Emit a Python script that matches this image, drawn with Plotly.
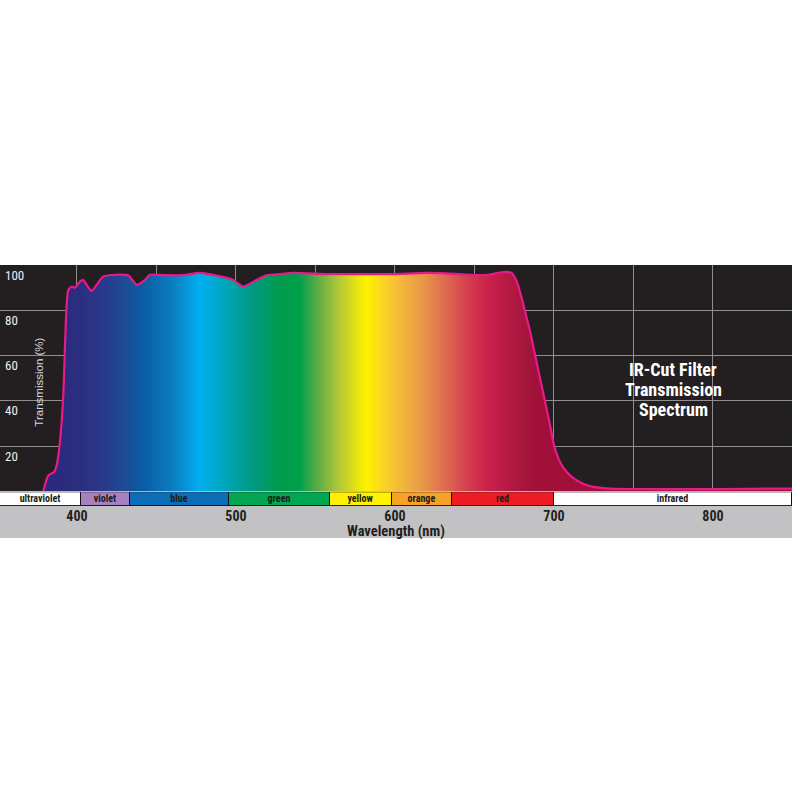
import plotly.graph_objects as go

# transmission curve
wavelength_nm = [378.8, 382.0, 385.6, 387.3, 389.3, 391.4, 392.5, 393.5, 394.6, 396.7,
                 398.8, 401.9, 404.0, 406.1, 409.3, 412.4, 416.6, 425.0, 432.3, 437.6,
                 442.8, 445.9, 454.1, 466.7, 477.4, 490.0, 498.1, 504.4, 513.2, 519.5,
                 527.7, 535.9, 557.3, 578.0, 598.8, 620.2, 640.9, 651.6, 659.8, 668.1,
                 673.4, 676.6, 679.7, 681.8, 685.0, 688.1, 691.2, 694.4, 697.5, 700.0,
                 703.8, 708.0, 714.3, 722.7, 735.3, 762.3, 804.4, 842.2, 849.7]
transmission_pct = [0.0, 7.0, 8.5, 11.6, 21.8, 42.5, 64.6, 82.3, 89.0, 90.4,
                    90.0, 92.7, 93.4, 91.2, 88.5, 91.2, 94.9, 95.7, 95.4, 91.2,
                    93.4, 95.7, 95.5, 95.5, 96.5, 95.0, 93.5, 90.5, 93.5, 95.5,
                    96.0, 96.5, 96.0, 96.0, 96.0, 96.5, 96.0, 95.5, 95.8, 96.9,
                    96.5, 92.7, 85.4, 79.5, 70.6, 60.3, 50.0, 39.7, 29.3, 20.4,
                    13.0, 8.5, 4.8, 2.3, 1.2, 1.0, 1.0, 1.2, 1.2]

# spectrum colours under the curve
spectrum_nm = [390, 410, 430, 440, 460, 477, 494, 511, 528, 540,
               551, 565, 582, 597, 618, 635, 647, 660, 680, 691]
spectrum_colors = ["#2b2a7c", "#2c3284", "#1e4a96", "#0b5aa2", "#0a7cc0", "#00aeef",
                   "#00a6b8", "#009a80", "#009a4c", "#00a04a", "#5aaa45", "#b5c835",
                   "#fff200", "#f7c830", "#e8964a", "#dc6050", "#d43a4f", "#c8204a",
                   "#a8163e", "#a01038"]

# colour band strip
band_names = ["ultraviolet", "violet", "blue", "green", "yellow", "orange", "red", "infrared"]
band_start = [351.6, 402.4, 433.4, 495.4, 559.1, 598.0, 635.7, 700.2]
band_end = [402.4, 433.4, 495.4, 559.1, 598.0, 635.7, 700.2, 849.7]
band_colors = ["#ffffff", "#a680bf", "#0b6db7", "#00a651", "#fff200", "#f7a226", "#ed1c24", "#ffffff"]

x_ticks = [400, 500, 600, 700, 800]
y_ticks = [20, 40, 60, 80, 100]
title_lines = ["IR-Cut Filter", "Transmission", "Spectrum"]

COND = "Roboto Condensed, DejaVu Sans Condensed, sans-serif"

lo, hi = spectrum_nm[0], spectrum_nm[-1]
colorscale = [[(w - lo) / (hi - lo), c] for w, c in zip(spectrum_nm, spectrum_colors)]

fig = go.Figure()

fig.add_trace(go.Scatter(
    x=wavelength_nm, y=transmission_pct, mode="lines",
    line=dict(color="#e8198b", width=2.2, shape="spline", smoothing=0.6),
    fill="tozeroy",
    fillgradient=dict(type="horizontal", colorscale=colorscale, start=lo, stop=hi),
    hoverinfo="skip", showlegend=False, xaxis="x", yaxis="y",
))

fig.add_trace(go.Bar(
    y=[0] * len(band_names),
    x=[e - s for s, e in zip(band_start, band_end)],
    base=band_start, orientation="h", width=1,
    marker=dict(color=band_colors, line=dict(color="#111111", width=1)),
    text=band_names, textposition="inside", insidetextanchor="middle",
    textfont=dict(family=COND, size=10, color="#1a1a1a", weight="bold"),
    constraintext="none",
    hoverinfo="skip", showlegend=False, xaxis="x2", yaxis="y2",
))

# y tick labels sit just under each grid line, inside the plot
annotations = [
    dict(text=str(v), x=0.004, y=v, xref="paper", yref="y", yshift=-10,
         xanchor="left", showarrow=False,
         font=dict(family=COND, size=13, color="#f0f0f0"))
    for v in y_ticks
]
# three-line title, tight line spacing like the original
for i, line in enumerate(title_lines):
    annotations.append(dict(text=line, x=775, y=45, xref="x", yref="y", yshift=20 - 20 * i,
                            showarrow=False,
                            font=dict(family=COND, size=18, color="white", weight="bold")))
annotations += [
    dict(text="Transmission (%)", textangle=-90, x=31 / 792, y=48, xref="paper", yref="y",
         showarrow=False, font=dict(family="Liberation Sans, Arial, sans-serif", size=11.5,
                                    color="#d8d8d8")),
    dict(text="Wavelength (nm)", x=0.5, y=0.022, xref="paper", yref="paper",
         xanchor="center", yanchor="middle", showarrow=False,
         font=dict(family=COND, size=14.5, color="#231f20", weight="bold")),
]

fig.update_layout(
    width=800, height=800,
    margin=dict(l=0, r=8, t=265, b=262),
    paper_bgcolor="white", plot_bgcolor="#231f20",
    bargap=0,
    xaxis=dict(range=[351.6, 849.7], tickvals=list(range(400, 801, 50)),
               showticklabels=False, ticks="", showgrid=True, gridcolor="#8f8f8f",
               gridwidth=1.2, zeroline=False, anchor="y"),
    yaxis=dict(domain=[0.1711, 1], range=[0, 100], tickvals=y_ticks, showticklabels=False,
               showgrid=True, gridcolor="#8f8f8f", gridwidth=1.2, zeroline=False,
               automargin=False),
    xaxis2=dict(range=[351.6, 849.7], matches="x", anchor="y2", tickvals=x_ticks,
                ticks="", showgrid=False, zeroline=False, automargin=False,
                tickfont=dict(family=COND, size=14, color="#231f20", weight="bold")),
    yaxis2=dict(domain=[0.1172, 0.168], range=[-0.5, 0.5], showticklabels=False,
                showgrid=False, zeroline=False, automargin=False),
    shapes=[dict(type="rect", xref="paper", yref="paper", x0=0, x1=1, y0=0, y1=0.1172,
                 fillcolor="#c2c2c4", line=dict(width=0), layer="below")],
    annotations=annotations,
)

fig.write_html("out.html", config={"displayModeBar": False},
               post_script="document.body.style.margin='0px';")
